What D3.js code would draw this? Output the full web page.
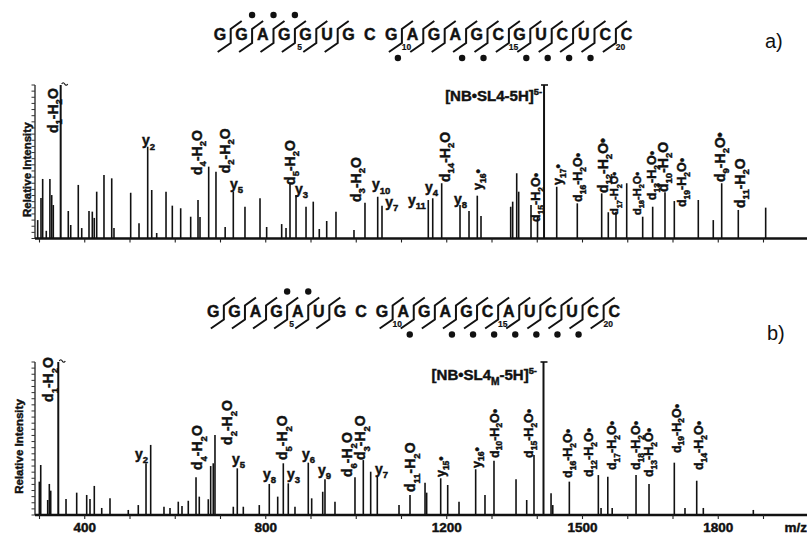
<!DOCTYPE html>
<html><head><meta charset="utf-8">
<script src="https://cdn.jsdelivr.net/npm/d3@7"></script>
<style>
body{margin:0;background:#fff}
svg{display:block}
text{font-family:Arial,"Liberation Sans",Helvetica,sans-serif;font-weight:700;fill:#111;stroke:#111;stroke-width:0.45px}
text.plain{font-weight:400;stroke-width:0}
</style>
</head><body>
<svg id="c" width="807" height="534"></svg>
<script>
// ---------- DATA ----------
const seqA = "GGAGGUGCGAGAGCGUCUCC".split("");
const seqB = "GGAGAUGCGAGAGCAUCUCC".split("");
// boundaries (after letter n) carrying a cleavage marker
const markerBounds = [1,2,3,4,5,6,9,10,11,12,13,14,15,16,17,18,19];
const topDotsA = [2,3,4];
const botDotsA = [9,12,13,15,16,17,18];
const topDotsB = [4,5];
const botDotsB = [10,12,13,14,15,16,17,18];
const seqNumbers = [5,10,15,20];

// spectrum a)
const mzA  = [296,303.3,307,315,323,327,330.5,346.8,363.6,369,385.7,393.3,409.4,416.7,421,426.4,442.5,459.6,464.6,501.5,519.9,539.1,548,559,579.6,593.5,612,634.1,650.3,654.7,673.9,690,710.3,728.3,754.1,787.3,802,835.2,844.8,853.6,866.9,889,905,918.3,934.7,955.2,995,1019.3,1047.4,1056.9,1159.2,1169,1188.8,1229.3,1249.2,1267.5,1275.7,1341.3,1345.7,1354.6,1359,1386.2,1400.6,1415,1443,1488.5,1542.4,1557,1574,1597.7,1633,1655.1,1682.3,1702.9,1755.9,1789,1807.6,1844.3,1904.8];
const intA = [12,26.4,38.8,5,38.8,28.3,21.8,100,17.9,8.8,34.9,6.8,17.9,17.5,13.4,30.5,41.4,39.2,6.8,29.8,10,59.8,31.6,3.6,30.5,21.4,19.7,14.2,25.1,14,46.8,43.5,7.5,30.5,20.7,26.2,7.5,9.4,6.8,36,28.3,20.7,24,6.2,11.4,17.5,5.5,23.3,27.2,21.4,25.1,26.2,36,21.8,17.9,27.9,14.7,20.7,24,42.5,30.5,21.8,14.2,100,33.7,22.9,29.4,17.1,17.5,36,14.2,20.7,30.1,24.4,25.1,12,36,18.6,20.1];
const truncatedA = [346.8,1415];

// spectrum b)
const mzB  = [299.6,302.7,318.1,321.7,324.8,341.5,358.6,382.2,404.3,411.6,421.1,437.5,455.8,496.2,518.3,535.4,545.7,575.1,588.4,606.7,614.9,628.8,645.9,653.1,673,678.3,684,687.8,728.3,737.1,750.4,785.7,807.8,826.4,838.8,849.8,864.6,894,901.5,925.9,930.9,953,997.2,1015.6,1031.9,1046.5,1094.5,1118.8,1152,1155.6,1186.6,1202.1,1227.1,1263.9,1284.5,1304.4,1353.1,1376.7,1392.8,1413.8,1430.5,1434.3,1470.9,1535,1541,1555.9,1565.6,1618.3,1647,1702.9,1726.5,1752.4,1767,1877.5];
const intB = [21.8,32.7,9.8,20.3,15.9,100,10.5,14.6,13.1,10.5,19,4.6,10.9,3.3,6.5,33.8,45.8,5.4,4.6,8.7,5.9,9.3,24.6,12,10.3,32,33.8,52.3,5.4,30.5,5.4,6.5,20.3,12,33.8,20.7,5.4,34.2,10.9,15.2,23.3,8.7,24.6,35.9,28.3,25,6.5,13.1,21.1,14.6,24,19.6,8.7,29.9,13.1,35.5,23.3,9.8,39.2,100,14.2,6.5,21.8,26.1,4.6,25,4.6,26.1,20.3,34.2,4.6,22.4,4.6,3.3];
const truncatedB = [341.5,1413.8];

// axis
const xTicks = d3.range(300,2000,100);
const xTickLabels = [400,800,1200,1500,1800];

// annotations: [text, m/z anchor, intensity anchor, rotated]
const labelsA = [
 ["d_{1}-H_{2}O",339.8,68.7,1],["y_{2}",526.5,60.6,0],["d_{4}-H_{2}O",659,41.4,1],["d_{2}-H_{2}O",721.4,42.5,1],
 ["y_{5}",721,32.2,0],["d_{5}-H_{2}O",865,34.9,1],["y_{3}",864.6,29,0],["d_{3}-H_{2}O",1009.4,23.8,1],
 ["y_{10}",1034.8,32,0],["y_{7}",1064,20.6,0],["y_{11}",1114.4,21.8,0],["y_{4}",1151.9,30.3,0],
 ["d_{14}-H_{2}O",1207.6,36.8,1],["y_{8}",1216,22.5,0],["y_{16}•",1277.9,31.6,1],["d_{15}-H_{2}O•",1406,10.7,1],
 ["y_{17}•",1454.7,34.9,1],["d_{16}-H_{2}O•",1498.9,23.8,1],["d_{12}-H_{2}O•",1556.4,29.6,1],["d_{17}-H_{2}O•",1579,15.3,1],
 ["d_{18}-H_{2}O•",1628.3,15.3,1],["d_{13}-H_{2}O•",1662.4,25,1],["d_{10}-H_{2}O",1689,30.3,1],["d_{19}-H_{2}O•",1728.7,20.5,1],
 ["d_{9}-H_{2}O•",1814.9,36.8,1],["d_{11}-H_{2}O",1859.1,19.9,1]
];
const labelsB = [
 ["d_{1}-H_{2}O",330.9,73.9,1],["y_{2}",511,36.6,0],["d_{4}-H_{2}O",660.2,29.4,1],["d_{2}-H_{2}O",726.5,45.8,1],
 ["y_{5}",725.4,33.3,0],["y_{8}",794,23.5,0],["d_{5}-H_{2}O",848,35.9,1],["y_{3}",847,23.5,0],["y_{6}",880,36.6,0],
 ["y_{9}",915.5,26.1,0],["d_{6}-H_{2}O",991.7,24.8,1],["d_{3}-H_{2}O",1020.4,35.9,1],["y_{7}",1041.4,26.8,0],
 ["d_{11}-H_{2}O",1130.9,15,1],["y_{15}•",1197.2,24.8,1],["y_{16}•",1274.6,30.7,1],["d_{10}-H_{2}O•",1314.4,37.3,1],
 ["d_{15}-H_{2}O•",1391.7,37.3,1],["d_{16}-H_{2}O•",1477.9,24.2,1],["d_{12}-H_{2}O•",1524.3,24.8,1],["d_{17}-H_{2}O•",1575.1,29.4,1],
 ["d_{18}-H_{2}O•",1627,29.4,1],["d_{13}-H_{2}O•",1656.9,24.8,1],["d_{19}-H_{2}O•",1716.6,40.5,1],["d_{14}-H_{2}O•",1767.4,29.4,1]
];
const parentA = ["[NB•SL4-5H]^{5-}",1410.5,89.6];
const parentB = ["[NB•SL4_{M}-5H]^{5-}",1399.4,88.2];
const smallA = ["d_{17}-H_{2}O•","d_{18}-H_{2}O•"];
const mediumA = ["d_{16}-H_{2}O•","d_{13}-H_{2}O•","d_{19}-H_{2}O•","y_{17}•","y_{16}•","d_{15}-H_{2}O•"];

// ---------- DRAW ----------
const svg = d3.select("#c");
const x = d3.scaleLinear().domain([300,1900]).range([39.5,763.5]);

function rich(sel, str, fs){
  const parts = str.match(/_\{[^}]*\}|\^\{[^}]*\}|[^_^]+/g);
  let shift = 0;
  parts.forEach(p=>{
    const t = sel.append("tspan");
    if(p[0]==="_"){ const s=fs*0.3; t.text(p.slice(2,-1)).attr("font-size",fs*0.68).attr("dy",s-shift); shift=s; }
    else if(p[0]==="^"){ const s=-fs*0.42; t.text(p.slice(2,-1)).attr("font-size",fs*0.62).attr("dy",s-shift); shift=s; }
    else { t.text(p).attr("font-size",fs).attr("dy",-shift); shift=0; }
  });
}

function panel(opt){
  const y = d3.scaleLinear().domain([0,100]).range([opt.base,opt.top]);
  const g = svg.append("g");
  // y axis
  g.append("line").attr("x1",35).attr("x2",35).attr("y1",opt.top).attr("y2",opt.base)
    .attr("stroke","#222").attr("stroke-width",1.3);
  g.selectAll(".yt").data(d3.range(0,101,4)).join("line")
    .attr("x1",31.5).attr("x2",35).attr("y1",d=>y(d)).attr("y2",d=>y(d))
    .attr("stroke","#333").attr("stroke-width",1);
  // peaks
  g.selectAll(".pk").data(opt.mz.map((m,i)=>[m,opt.int[i]])).join("line")
    .attr("x1",d=>x(d[0])).attr("x2",d=>x(d[0])).attr("y1",opt.base).attr("y2",d=>y(d[1]))
    .attr("stroke","#111").attr("stroke-width",d=>d[1]>=99?2:1.6);
  // truncation marks
  opt.trunc.forEach((m,i)=>{
    const px=x(m), py=y(100);
    if(i===1){
      g.append("line").attr("x1",px-3).attr("x2",px+4).attr("y1",py).attr("y2",py).attr("stroke","#111").attr("stroke-width",1.6);
    } else {
      g.append("path").attr("d",`M${px+1},${py-1} q1.5,-2.5 3,0 t3,0`).attr("fill","none").attr("stroke","#111").attr("stroke-width",1.2);
    }
  });
  // baseline
  g.append("line").attr("x1",35).attr("x2",807).attr("y1",opt.base).attr("y2",opt.base)
    .attr("stroke","#111").attr("stroke-width",2.6);
  g.selectAll(".xt").data(xTicks).join("line")
    .attr("x1",d=>x(d)).attr("x2",d=>x(d)).attr("y1",opt.base).attr("y2",opt.base+4)
    .attr("stroke","#222").attr("stroke-width",1.1);
  // y title
  g.append("text").attr("transform",`translate(${opt.ytx},${(opt.top+opt.base)/2+8}) rotate(-90)`)
    .attr("text-anchor","middle").attr("font-size",11.5).text("Relative Intensity");
  // labels
  opt.labels.forEach(L=>{
    let fs = 14;
    if(opt.small.includes(L[0])) fs=11; else if(opt.medium.includes(L[0])) fs=12.5;
    const px=x(L[1]), py=y(L[2]);
    const t = g.append("text").attr("font-size",fs);
    if(L[3]) t.attr("transform",`translate(${px},${py}) rotate(-90)`);
    else t.attr("x",px).attr("y",py);
    rich(t,L[0],fs);
  });
  const pt = g.append("text").attr("text-anchor","end").attr("x",x(opt.parent[1])).attr("y",y(opt.parent[2])).attr("font-size",15);
  rich(pt,opt.parent[0],15);
  return y;
}

panel({base:238.5,top:85,mz:mzA,int:intA,trunc:truncatedA,labels:labelsA,parent:parentA,ytx:31,small:smallA,medium:mediumA});
panel({base:515,top:362,mz:mzB,int:intB,trunc:truncatedB,labels:labelsB,parent:parentB,ytx:23,small:[],medium:labelsB.filter(l=>l[3]&&l[0].endsWith("•")).map(l=>l[0])});

// x tick labels
svg.selectAll(".xl").data(xTickLabels).join("text")
  .attr("x",d=>x(d)).attr("y",532).attr("text-anchor","middle").attr("font-size",13.5).text(d=>d);
svg.append("text").attr("x",807).attr("y",532).attr("text-anchor","end").attr("font-size",13.5).text("m/z");

// panel letters
svg.append("text").attr("class","plain").attr("x",765).attr("y",48).attr("font-size",20).text("a)");
svg.append("text").attr("class","plain").attr("x",767).attr("y",340).attr("font-size",20).text("b)");

// sequences
function sequence(seq, x0, step, base, topDots, botDots){
  const g = svg.append("g");
  const lx = i => x0 + i*step;
  g.selectAll("text.l").data(seq).join("text")
    .attr("x",(d,i)=>lx(i)).attr("y",base).attr("text-anchor","middle").attr("font-size",16).text(d=>d);
  markerBounds.forEach(b=>{
    const xb = (lx(b-1)+lx(b))/2;
    g.append("path").attr("d",`M${xb-13},${base+12} L${xb},${base+3} L${xb},${base-11} L${xb+11},${base-19}`)
      .attr("fill","none").attr("stroke","#111").attr("stroke-width",2);
  });
  topDots.forEach(b=>{
    const xb = (lx(b-1)+lx(b))/2;
    g.append("circle").attr("cx",xb).attr("cy",base-25).attr("r",3.2).attr("fill","#111");
  });
  botDots.forEach(b=>{
    const xb = (lx(b-1)+lx(b))/2;
    g.append("circle").attr("cx",xb-4).attr("cy",base+18).attr("r",3.2).attr("fill","#111");
  });
  seqNumbers.forEach(n=>{
    g.append("text").attr("x",lx(n-1)-6).attr("y",base+10).attr("text-anchor","middle").attr("font-size",8.5).style("stroke-width","0.2px").text(n);
  });
}
sequence(seqA,220,21.4,40,topDotsA,botDotsA);
sequence(seqB,213.3,21.1,316.5,topDotsB,botDotsB);
</script>
</body></html>
